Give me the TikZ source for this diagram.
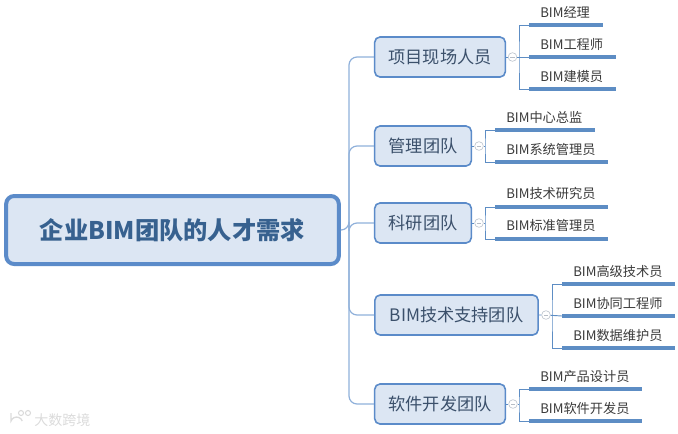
\documentclass[tikz,border=0pt]{standalone}
\usepackage{fontspec}
\setmainfont{Noto Sans CJK SC}
\definecolor{rimblue}{HTML}{5B8BC9}
\definecolor{boxblue}{HTML}{DCE6F3}
\definecolor{linkblue}{HTML}{8FB0DA}
\definecolor{barblue}{HTML}{5D8DC4}
\definecolor{rootink}{HTML}{37618F}
\definecolor{teamink}{HTML}{3B506B}
\definecolor{roleink}{HTML}{3A3A3A}
\tikzstyle{root}=[draw=rimblue, fill=boxblue, line width=3pt, rounded corners=6pt, minimum width=249.5pt, minimum height=51pt, inner sep=0pt, text=rootink, font=\fontsize{18.2}{22}\selectfont\bfseries]
\tikzstyle{team}=[draw=rimblue, fill=boxblue, line width=1.2pt, rounded corners=4pt, minimum height=30pt, inner sep=0pt, text=teamink, font=\fontsize{12.9}{15}\selectfont]
\tikzstyle{role}=[anchor=west, inner sep=0pt, text=roleink, font=\fontsize{9.9}{12}\selectfont]
\tikzstyle{bar}=[anchor=west, fill=barblue, inner sep=0pt, minimum height=2.4pt]
\tikzstyle{fold}=[circle, draw=boxblue!70!gray, line width=0.5pt, inner sep=0pt, minimum size=6.5pt, path picture={\draw[boxblue!60!gray, line width=0.4pt] ([xshift=-1.6pt]path picture bounding box.center) -- ([xshift=1.6pt]path picture bounding box.center);}]
\tikzstyle{trunk}=[linkblue, line width=0.9pt, rounded corners=6pt]
\tikzstyle{stem}=[barblue, line width=0.7pt]
\begin{document}
\begin{tikzpicture}[x=0.75pt, y=-0.75pt]
        \useasboundingbox (0, 0) rectangle (678, 433);
        \node[root] (R) at (172.5, 230) {企业BIM团队的人才需求};
        \node[team, minimum width=98pt] (A) at (440, 57) {项目现场人员};
        \node[team, minimum width=72.5pt] (B) at (423, 146) {管理团队};
        \node[team, minimum width=72.5pt] (C) at (423, 223) {科研团队};
        \node[team, minimum width=122.5pt] (D) at (456.5, 315) {BIM技术支持团队};
        \node[team, minimum width=98pt] (E) at (440, 404) {软件开发团队};
        \coordinate (T) at (349, 230);
        \draw[trunk] (A.west) -| (T) |- (E.west);
        \draw[trunk] (B.west) -| (T);
        \draw[trunk] (D.west) -| (T);
        \draw[trunk] (R.east) -- (T) |- (C.west);
        % project staff
        \node[fold] (Af) at (512.5, 57) {};
        \coordinate (Av) at (519, 57);
        \node[bar, minimum width=55.5pt] (A1) at (529, 25) {};
        \node[bar, minimum width=65pt] (A2) at (529, 57) {};
        \node[bar, minimum width=65pt] (A3) at (529, 89) {};
        \node[role] (A1t) at (540, 12.5) {BIM经理};
        \node[role] (A2t) at (540, 44.5) {BIM工程师};
        \node[role] (A3t) at (540, 76.5) {BIM建模员};
        \draw[stem] (A.east) -- (Af) -- (A2.west);
        \draw[stem] (A1.west) -| (Av) |- (A3.west);
        % management
        \node[fold] (Bf) at (479, 146) {};
        \coordinate (Bv) at (485, 146);
        \node[bar, minimum width=75pt] (B1) at (495, 130) {};
        \node[bar, minimum width=84.5pt] (B2) at (495, 162) {};
        \node[role] (B1t) at (506, 117.5) {BIM中心总监};
        \node[role] (B2t) at (506, 149.5) {BIM系统管理员};
        \draw[stem] (B.east) -- (Bf) -- (Bv);
        \draw[stem] (B1.west) -| (Bv) |- (B2.west);
        % research
        \node[fold] (Cf) at (479, 223) {};
        \coordinate (Cv) at (485, 223);
        \node[bar, minimum width=84.5pt] (C1) at (495, 207) {};
        \node[bar, minimum width=84.5pt] (C2) at (495, 239) {};
        \node[role] (C1t) at (506, 193.5) {BIM技术研究员};
        \node[role] (C2t) at (506, 225.5) {BIM标准管理员};
        \draw[stem] (C.east) -- (Cf) -- (Cv);
        \draw[stem] (C1.west) -| (Cv) |- (C2.west);
        % technical support
        \node[fold] (Df) at (546, 315) {};
        \coordinate (Dv) at (552, 315);
        \node[bar, minimum width=84.5pt] (D1) at (562, 284) {};
        \node[bar, minimum width=84.5pt] (D2) at (562, 316) {};
        \node[bar, minimum width=84.5pt] (D3) at (562, 348) {};
        \node[role] (D1t) at (573, 271.5) {BIM高级技术员};
        \node[role] (D2t) at (573, 303.5) {BIM协同工程师};
        \node[role] (D3t) at (573, 335.5) {BIM数据维护员};
        \draw[stem] (D.east) -- (Df) -- (D2.west);
        \draw[stem] (D1.west) -| (Dv) |- (D3.west);
        % software
        \node[fold] (Ef) at (513, 404) {};
        \coordinate (Ev) at (519, 404);
        \node[bar, minimum width=84.5pt] (E1) at (529, 389) {};
        \node[bar, minimum width=84.5pt] (E2) at (529, 421) {};
        \node[role] (E1t) at (540, 376.5) {BIM产品设计员};
        \node[role] (E2t) at (540, 408.5) {BIM软件开发员};
        \draw[stem] (E.east) -- (Ef) -- (Ev);
        \draw[stem] (E1.west) -| (Ev) |- (E2.west);
        % watermark
        \node[anchor=west, inner sep=0pt, text=black!14, font=\fontsize{10.5}{12}\selectfont] (W) at (34, 420) {大数跨境};
        \draw[black!14, line width=1pt] (11, 413) -- (11, 421) arc[start angle=200, end angle=340, radius=6];
        \draw[black!14, line width=0.8pt] (21, 413) circle[radius=2.5] (28, 413) circle[radius=2.5];
    \end{tikzpicture}
\end{document}
